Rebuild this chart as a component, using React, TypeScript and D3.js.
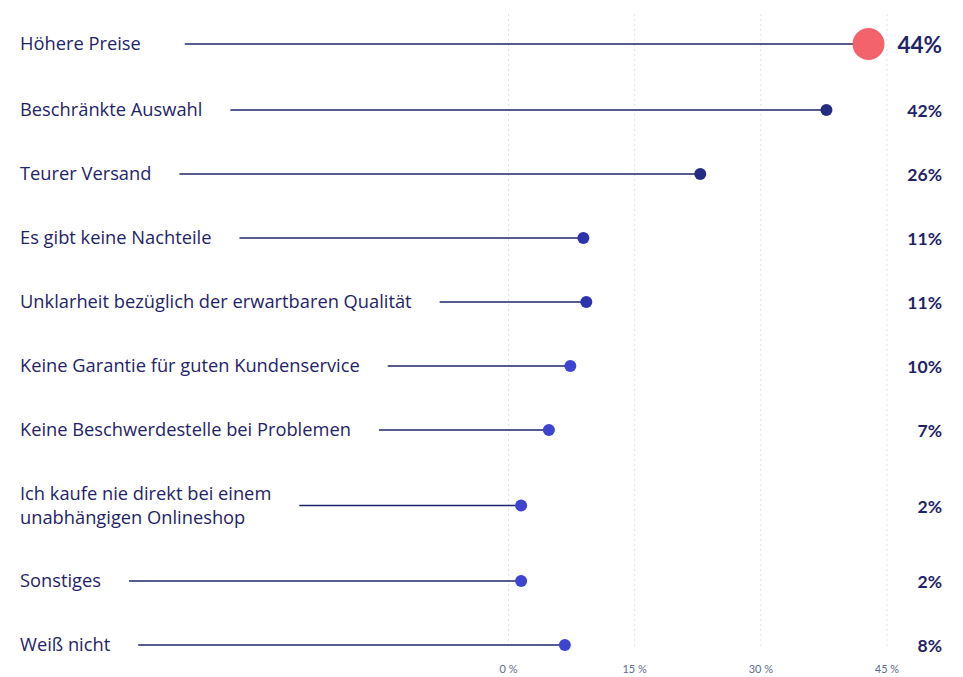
import React, { useEffect, useRef } from "react";
import * as d3 from "d3";

const categories: string[][] = [
  ["Höhere Preise"],
  ["Beschränkte Auswahl"],
  ["Teurer Versand"],
  ["Es gibt keine Nachteile"],
  ["Unklarheit bezüglich der erwartbaren Qualität"],
  ["Keine Garantie für guten Kundenservice"],
  ["Keine Beschwerdestelle bei Problemen"],
  ["Ich kaufe nie direkt bei einem", "unabhängigen Onlineshop"],
  ["Sonstiges"],
  ["Weiß nicht"],
];
const dotValues: number[] = [42.8, 37.8, 22.8, 8.9, 9.25, 7.35, 4.8, 1.5, 1.5, 6.7];
const valueLabels: string[] = ["44%", "42%", "26%", "11%", "11%", "10%", "7%", "2%", "2%", "8%"];
const tickValues: number[] = [0, 15, 30, 45];
const highlightIndex = 0;

const W = 963;
const H = 677;
const FONT = "'Open Sans', Lato, sans-serif";
const FONT_NUM = "Lato, 'Open Sans', sans-serif";
const NAVY = "#1f2468";

function dotColor(i: number): string {
  if (i === highlightIndex) return "#f2636b";
  if (i <= 2) return "#262b82";
  if (i <= 4) return "#2c33ad";
  return "#3d44d2";
}

export default function App() {
  const ref = useRef<SVGSVGElement>(null);

  useEffect(() => {
    const svg = d3.select(ref.current);
    svg.selectAll("*").remove();

    const x = d3.scaleLinear().domain([0, 45]).range([508.5, 887]);

    const heights = categories.map((c, i) => 64 + (c.length - 1) * 23 + (i === highlightIndex ? 4 : 0));
    const top = 10;
    const centers: number[] = [];
    let acc = top;
    heights.forEach((h) => {
      centers.push(acc + h / 2);
      acc += h;
    });

    const grid = svg.append("g");
    grid
      .selectAll("line")
      .data(tickValues)
      .join("line")
      .attr("x1", (d) => x(d))
      .attr("x2", (d) => x(d))
      .attr("y1", 14)
      .attr("y2", 648)
      .attr("stroke", "#dfe2ea")
      .attr("stroke-width", 1)
      .attr("stroke-dasharray", "2,3");

    grid
      .selectAll("text")
      .data(tickValues)
      .join("text")
      .attr("x", (d) => x(d))
      .attr("y", 669)
      .attr("dy", "0.35em")
      .attr("text-anchor", "middle")
      .attr("font-family", FONT_NUM)
      .attr("font-size", 11)
      .attr("fill", "#5d6c8e")
      .text((d) => `${d} %`);

    const rows = svg
      .selectAll("g.row")
      .data(categories)
      .join("g")
      .attr("class", "row");

    rows.each(function (lines, i) {
      const g = d3.select(this);
      const cy = centers[i];
      const lh = 24;
      const t = g
        .append("text")
        .attr("font-family", FONT)
        .attr("font-size", 18.3)
        .attr("fill", NAVY);
      let maxW = 0;
      lines.forEach((ln, k) => {
        const ts = t
          .append("tspan")
          .attr("x", 20)
          .attr("y", cy + (k - (lines.length - 1) / 2) * lh)
          .attr("dy", "0.35em")
          .text(ln);
        const node = ts.node() as SVGTSpanElement;
        maxW = Math.max(maxW, node.getComputedTextLength());
      });
      const lineStart = 20 + maxW + (i === highlightIndex ? 44 : 28);
      const cx = x(dotValues[i]);
      const r = i === highlightIndex ? 16 : 6;
      g.append("line")
        .attr("x1", lineStart)
        .attr("x2", cx)
        .attr("y1", cy)
        .attr("y2", cy)
        .attr("stroke", NAVY)
        .attr("stroke-width", 1.3);
      g.append("circle")
        .attr("cx", cx)
        .attr("cy", cy)
        .attr("r", r)
        .attr("fill", dotColor(i));
      g.append("text")
        .attr("x", 942)
        .attr("y", cy + 1)
        .attr("dy", "0.35em")
        .attr("text-anchor", "end")
        .attr("font-family", FONT_NUM)
        .attr("font-weight", 700)
        .attr("font-size", i === highlightIndex ? 22.5 : 17.5)
        .attr("fill", NAVY)
        .text(valueLabels[i]);
    });
  }, []);

  return (
    <svg
      ref={ref}
      width={W}
      height={H}
      style={{ position: "absolute", left: 0, top: 0, background: "#fff" }}
    />
  );
}
